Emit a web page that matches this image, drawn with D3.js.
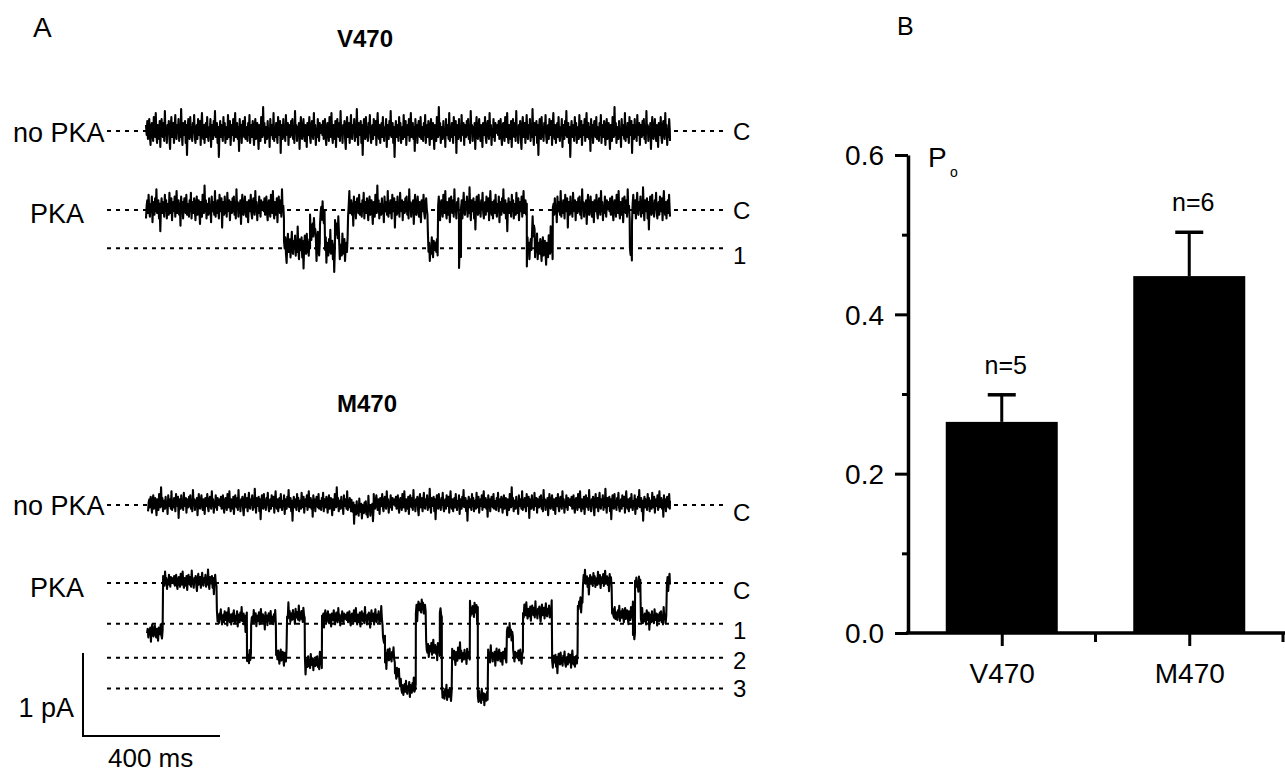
<!DOCTYPE html>
<html><head><meta charset="utf-8">
<script src="https://cdn.jsdelivr.net/npm/d3@7"></script>
<style>
html,body{margin:0;padding:0;background:#fff;}
svg text{font-family:"Liberation Sans",Arial,Helvetica,sans-serif;fill:#000;}
</style></head><body>
<svg id="chart" width="1285" height="776"></svg>
<script>
// ===================== DATA =====================
// Panel A: single-channel recordings. Segments: [start ms, end ms, current pA]
const TRACE_DURATION_MS = 1530;
const SAMPLE_MS = 1.9;
const v470NoPkaSegments = [[0,1530,0]];
const v470PkaSegments = [[0,403,0.03],[403,479,-0.44],[479,496,-0.23],[496,508,-0.46],[508,523,-0.05],[523,552,-0.46],[552,564,-0.23],[564,590,-0.46],[590,823,0.03],[823,853,-0.46],[853,914,0.03],[914,920,-0.5],[920,1112,0.03],[1112,1127,-0.46],[1127,1136,-0.23],[1136,1188,-0.46],[1188,1413,0.03],[1413,1419,-0.52],[1419,1530,0.03]];
const m470NoPkaSegments = [[6,600,0.02],[600,665,-0.05],[665,1530,0.02]];
const m470PkaSegments = [[3,50,-0.59],[50,207,0.02],[207,295,-0.42],[295,307,-0.9],[307,380,-0.43],[380,412,-0.88],[412,464,-0.39],[464,514,-0.96],[514,692,-0.42],[692,698,-0.7],[698,727,-0.88],[727,742,-1.1],[742,788,-1.27],[788,818,-0.29],[818,858,-0.8],[858,864,-0.37],[864,894,-1.33],[894,946,-0.87],[946,969,-0.33],[969,999,-1.38],[999,1054,-0.88],[1054,1072,-0.6],[1072,1101,-0.88],[1101,1186,-0.35],[1186,1261,-0.93],[1261,1276,-0.25],[1276,1361,0.03],[1361,1422,-0.38],[1422,1428,-0.6],[1428,1445,0.0],[1445,1521,-0.42],[1521,1530,0.02]];
// Noise amplitude per trace (pA per noise unit), and hand-read noise pattern
const traceNoiseAmplitudes = [0.024, 0.022, 0.016, 0.013];
const NOISE = [
3,-2,5,-4,1,6,-3,-7,2,4,-1,-5,7,0,-3,9,-2,-6,3,1,-4,5,-8,2,6,-1,-3,4,-5,10,-2,1,-6,3,-1,5,-4,-9,2,7,
-3,0,4,-6,1,8,-2,-4,3,-1,6,-5,2,-3,11,-1,-7,4,0,-2,5,-6,3,-12,1,6,-2,-4,7,-3,2,-5,4,-1,8,-3,-6,1,3,-4,
6,-2,0,5,-7,2,9,-1,-4,3,-6,1,4,-3,7,-2,-5,2,-1,6,-8,3,1,-4,5,-2,10,-3,-1,4,-6,2,-13,0,5,-3,3,-1,-5,7,
-2,4,-6,1,2,-4,8,-1,-3,5,-7,0,3,-2,6,-5,1,9,-3,-1,4,-4,2,-10,6,-2,3,-6,1,5,-1,-3,7,-4,2,0,-5,4,-2,8,
-6,1,3,-3,5,-1,-7,2,6,-4,0,4,-2,-9,3,1,-5,7,-1,-3,12,-2,4,-6,0,2,-4,5,-3,1,-8,6,-2,3,-1,-4,9,-5,2,-3,
4,-1,-6,7,0,-2,5,-11,3,1,-4,6,-3,2,-5,8,-1,-2,4,-7,3,0,-3,5,-2,6,-4,1,-6,10,-1,3,-5,2,-2,4,-9,1,7,-3,
-4,2,6,-1,-5,3,0,-8,4,1,-2,7,-3,-6,2,5,-1,-4,9,-2,3,-7,1,-3,6,0,-5,4,-1,2
];
// Level lines (pA) and their labels
const v470NoPkaLevels = [0];          const v470NoPkaLevelLabels = ["C"];
const v470PkaLevels = [0, -0.46];     const v470PkaLevelLabels = ["C","1"];
const m470NoPkaLevels = [0];          const m470NoPkaLevelLabels = ["C"];
const m470PkaLevels = [0, -0.49, -0.90, -1.27]; const m470PkaLevelLabels = ["C","1","2","3"];
const traceLeftLabels = ["no PKA","PKA","no PKA","PKA"];
const groupTitles = ["V470","M470"];
const scaleBarCurrentPA = 1;
const scaleBarTimeMs = 400;

// Panel B: open probability
const categories = ["V470","M470"];
const poMeans = [0.265, 0.448];
const poErrors = [0.034, 0.055];
const nLabels = ["n=5","n=6"];
const yTicksMajor = [0, 0.2, 0.4, 0.6];
const yTicksMinor = [0.1, 0.3, 0.5];

// ===================== DRAW =====================
const svg = d3.select("#chart");
const PX_PER_PA = 83;
const x = d3.scaleLinear().domain([0, TRACE_DURATION_MS]).range([146, 670]);

const traces = [
  {segs:v470NoPkaSegments, yC:131, levels:v470NoPkaLevels, labels:v470NoPkaLevelLabels, labelDy:[9], leftDy:11, noiseOffset:0},
  {segs:v470PkaSegments,   yC:210, levels:v470PkaLevels,   labels:v470PkaLevelLabels,   labelDy:[9,16], leftDy:13, noiseOffset:90},
  {segs:m470NoPkaSegments, yC:505, levels:m470NoPkaLevels, labels:m470NoPkaLevelLabels, labelDy:[16], leftDy:10, noiseOffset:160},
  {segs:m470PkaSegments,   yC:583, levels:m470PkaLevels,   labels:m470PkaLevelLabels,   labelDy:[16,15,11,9], leftDy:14, noiseOffset:230}
];

const gA = svg.append("g");
gA.append("text").attr("x",33).attr("y",37).style("font-size","28px").text("A");
gA.append("text").attr("x",337).attr("y",47).style("font-size","24px").style("font-weight","bold").text(groupTitles[0]);
gA.append("text").attr("x",337).attr("y",412).style("font-size","24px").style("font-weight","bold").text(groupTitles[1]);

traces.forEach((tr, i) => {
  const y = d3.scaleLinear().domain([0, -1]).range([tr.yC, tr.yC + PX_PER_PA]);
  // dotted level lines
  tr.levels.forEach((lv, j) => {
    gA.append("line").attr("x1",107).attr("x2",728)
      .attr("y1",y(lv)).attr("y2",y(lv))
      .attr("stroke","#000").attr("stroke-width",2).attr("stroke-dasharray","4,5");
    gA.append("text").attr("x",733).attr("y",y(lv)+tr.labelDy[j])
      .style("font-size","24px").text(tr.labels[j]);
  });
  // left label
  const lx = traceLeftLabels[i] === "PKA" ? 30 : 13;
  gA.append("text").attr("x",lx).attr("y",tr.yC+tr.leftDy)
    .style("font-size","27px").text(traceLeftLabels[i]);
  // trace samples: ideal level + noise
  const pts = [];
  let k = 0;
  const amp = traceNoiseAmplitudes[i];
  tr.segs.forEach(([t0,t1,lv]) => {
    for (let t = t0; t < t1; t += SAMPLE_MS) {
      pts.push([t, lv + NOISE[(k + tr.noiseOffset) % NOISE.length] * amp]);
      k++;
    }
  });
  const last = tr.segs[tr.segs.length-1];
  pts.push([last[1], last[2] + NOISE[(k + tr.noiseOffset) % NOISE.length] * amp]);
  const line = d3.line().x(d => x(d[0])).y(d => y(d[1]));
  gA.append("path").datum(pts).attr("d", line)
    .attr("fill","none").attr("stroke","#000").attr("stroke-width",2.1).attr("stroke-linejoin","round");
});

// scale bar
const sbX0 = 83, sbY0 = 736;
const sbW = x(scaleBarTimeMs) - x(0);
const sbH = scaleBarCurrentPA * PX_PER_PA;
gA.append("path").attr("d", `M${sbX0},${sbY0-sbH}V${sbY0}H${sbX0+sbW}`)
  .attr("fill","none").attr("stroke","#000").attr("stroke-width",2);
gA.append("text").attr("x",74).attr("y",717).attr("text-anchor","end").style("font-size","27px").text(scaleBarCurrentPA + " pA");
gA.append("text").attr("x",108).attr("y",767).style("font-size","26px").text(scaleBarTimeMs + " ms");

// ===================== Panel B =====================
const gB = svg.append("g");
gB.append("text").attr("x",897).attr("y",35).style("font-size","25px").text("B");
const yB = d3.scaleLinear().domain([0, 0.6]).range([633, 155]);
const xB = d3.scalePoint().domain(categories).range([908, 1283]).padding(0.5);
const barW = 112;

// bars
gB.selectAll("rect.bar").data(categories).enter().append("rect")
  .attr("x", d => xB(d) - barW/2).attr("width", barW)
  .attr("y", (d,i) => yB(poMeans[i])).attr("height", (d,i) => yB(0) - yB(poMeans[i]))
  .attr("fill","#000");
// error bars
categories.forEach((c, i) => {
  const cx = xB(c), top = yB(poMeans[i] + poErrors[i]);
  gB.append("line").attr("x1",cx).attr("x2",cx).attr("y1",yB(poMeans[i])).attr("y2",top)
    .attr("stroke","#000").attr("stroke-width",3);
  gB.append("line").attr("x1",cx-14).attr("x2",cx+14).attr("y1",top).attr("y2",top)
    .attr("stroke","#000").attr("stroke-width",3.5);
  gB.append("text").attr("x",cx+4).attr("y",top-21).attr("text-anchor","middle")
    .style("font-size","25px").text(nLabels[i]);
});

// y axis
const yAxis = d3.axisLeft(yB).tickValues(yTicksMajor).tickFormat(d3.format(".1f"))
  .tickSize(13).tickSizeOuter(0).tickPadding(11);
const gy = gB.append("g").attr("transform","translate(908,0)").call(yAxis);
gy.select(".domain").attr("stroke-width",3.5);
gy.selectAll(".tick line").attr("stroke-width",3);
gy.selectAll(".tick text").style("font-size","28px").attr("dy","0.35em").style("font-family",'"Liberation Sans",Arial,sans-serif');
const yAxisMinor = d3.axisLeft(yB).tickValues(yTicksMinor).tickFormat("").tickSize(6).tickSizeOuter(0);
const gym = gB.append("g").attr("transform","translate(908,0)").call(yAxisMinor);
gym.select(".domain").remove();
gym.selectAll(".tick line").attr("stroke-width",3);

// Po label
gB.append("text").attr("x",928).attr("y",167).style("font-size","28px").text("P");
gB.append("text").attr("x",950).attr("y",177).style("font-size","14px").text("o");

// x axis
const xAxis = d3.axisBottom(xB).tickSize(13).tickSizeOuter(0).tickPadding(17);
const gx = gB.append("g").attr("transform","translate(0,633)").call(xAxis);
gx.select(".domain").attr("stroke-width",3.5).attr("d","M906,0H1285");
gx.selectAll(".tick line").attr("stroke-width",3);
gx.selectAll(".tick text").style("font-size","28px").style("font-family",'"Liberation Sans",Arial,sans-serif');
// minor x ticks at category boundaries
const boundaries = categories.map(c => xB(c) + xB.step()/2);
gB.selectAll("line.xminor").data(boundaries).enter().append("line")
  .attr("x1", d => Math.min(d, 1283)).attr("x2", d => Math.min(d, 1283))
  .attr("y1",633).attr("y2",642).attr("stroke","#000").attr("stroke-width",3);
</script>
</body></html>
